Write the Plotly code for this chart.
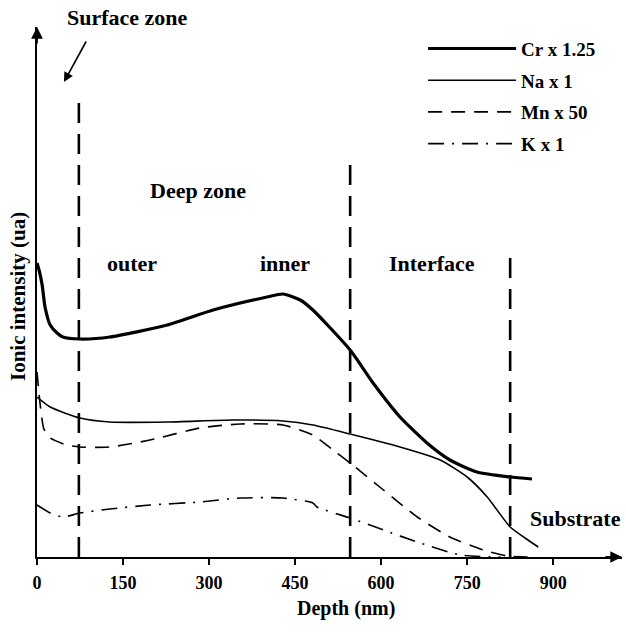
import plotly.graph_objects as go

# ---- data (depth in nm, intensity in arbitrary units) ----
cr_depth = [0, 4, 9, 14, 23, 35, 45, 75, 127, 227, 307, 401, 429, 459, 481, 546, 586, 633, 680, 720, 767, 825, 863]
cr_val   = [294, 286, 272, 250, 232, 224, 220, 218, 220, 232, 247, 260, 263, 257, 247, 207, 174, 140, 114, 97, 85, 80, 78]

na_depth = [0, 23, 75, 127, 227, 342, 429, 481, 546, 633, 703, 750, 785, 825, 851, 874]
na_val   = [160, 150, 139, 135, 135, 137, 136, 132, 123, 110, 97, 80, 60, 30, 19, 10]

mn_depth = [0, 6, 12, 23, 52, 75, 127, 197, 284, 354, 429, 481, 516, 546, 604, 663, 720, 778, 820, 860]
mn_val   = [185, 150, 128, 119, 112, 110, 110, 117, 129, 133, 132, 122, 107, 94, 67, 40, 20, 7, 1, 0]

k_depth = [0, 23, 45, 75, 127, 197, 284, 354, 429, 481, 488, 546, 604, 663, 738, 808]
k_val   = [52, 44, 40, 44, 48, 52, 55, 59, 59, 54, 50, 39, 27, 15, 2, 0]

series_names = ["Cr x 1.25", "Na x 1", "Mn x 50", "K x 1"]

x_ticks = [0, 150, 300, 450, 600, 750, 900]

# zone boundaries: depth and top of the dashed line
zone_depth = [73, 546, 825]
zone_top = [462, 395, 307]

zone_labels = ["Deep zone", "outer", "inner", "Interface", "Substrate"]
zone_label_x = [281, 166, 433, 689, 939]
zone_label_y = [367, 294, 294, 294, 39]

FONT = "Liberation Serif"

fig = go.Figure()
styles = [
    dict(width=3.2, dash="solid"),
    dict(width=1.6, dash="solid"),
    dict(width=1.6, dash="14px,9px"),
    dict(width=1.6, dash="16px,8px,2px,8px"),
]
for i, (xs, ys) in enumerate([(cr_depth, cr_val), (na_depth, na_val), (mn_depth, mn_val), (k_depth, k_val)]):
    fig.add_trace(go.Scatter(
        x=xs, y=ys, mode="lines", name=series_names[i],
        line=dict(color="black", shape="spline", smoothing=0.6, **styles[i]),
        legendgroup="g%d" % i, hoverinfo="skip",
    ))

for d, t in zip(zone_depth, zone_top):
    fig.add_trace(go.Scatter(
        x=[d, d], y=[0, t], mode="lines", showlegend=False,
        line=dict(color="black", width=2.6, dash="20px,11px"), hoverinfo="skip",
    ))

annotations = []
for txt, xx, yy in zip(zone_labels, zone_label_x, zone_label_y):
    annotations.append(dict(x=xx, y=yy, text=txt, showarrow=False,
                            font=dict(family=FONT, size=22, color="black", weight="bold")))
# Surface zone label and its arrow
annotations.append(dict(xref="paper", yref="paper", x=(127 - 37) / 585, y=(557 - 18) / 530,
                        xanchor="center", yanchor="middle", text="Surface zone", showarrow=False,
                        font=dict(family=FONT, size=22, color="black", weight="bold")))
annotations.append(dict(x=47, y=475, text="", showarrow=True, ax=23, ay=-42,
                        arrowhead=2, arrowsize=1.2, arrowwidth=1.6, arrowcolor="black"))
# axis arrows
annotations.append(dict(xref="paper", yref="paper", x=0, y=1, text="", showarrow=True,
                        ax=0, ay=18, arrowhead=2, arrowsize=1.3, arrowwidth=1.8, arrowcolor="black"))
annotations.append(dict(xref="paper", yref="paper", x=1, y=0, text="", showarrow=True,
                        ax=-18, ay=0, arrowhead=2, arrowsize=1.3, arrowwidth=1.8, arrowcolor="black"))
# axis titles
annotations.append(dict(xref="paper", yref="paper", x=(346 - 37) / 585, y=-51 / 530,
                        xanchor="center", yanchor="middle", text="Depth (nm)",
                        showarrow=False, font=dict(family=FONT, size=20, color="black", weight="bold")))
annotations.append(dict(xref="paper", yref="paper", x=-19 / 585, y=(557 - 297) / 530,
                        xanchor="center", yanchor="middle", text="Ionic intensity (ua)",
                        textangle=-90, showarrow=False,
                        font=dict(family=FONT, size=21, color="black", weight="bold")))

fig.update_layout(
    width=626, height=632,
    margin=dict(l=37, r=4, t=27, b=75),
    plot_bgcolor="white", paper_bgcolor="white",
    font=dict(family=FONT, color="black"),
    showlegend=True,
    legend=dict(x=0.66, y=0.995, xanchor="left", yanchor="top",
                bgcolor="rgba(0,0,0,0)", tracegroupgap=4, itemwidth=88,
                font=dict(family=FONT, size=19, color="black", weight="bold")),
    annotations=annotations,
    xaxis=dict(range=[0, 1020], showgrid=False, zeroline=False, showline=True,
               linecolor="black", linewidth=2, tickvals=x_ticks, ticks="outside",
               ticklen=6, tickwidth=2, tickcolor="black", ticklabelstandoff=2,
               tickfont=dict(family=FONT, size=18, color="black", weight="bold")),
    yaxis=dict(range=[0, 530], showgrid=False, zeroline=False, showline=True,
               linecolor="black", linewidth=2, showticklabels=False, ticks=""),
)

fig.write_html("out.html")
